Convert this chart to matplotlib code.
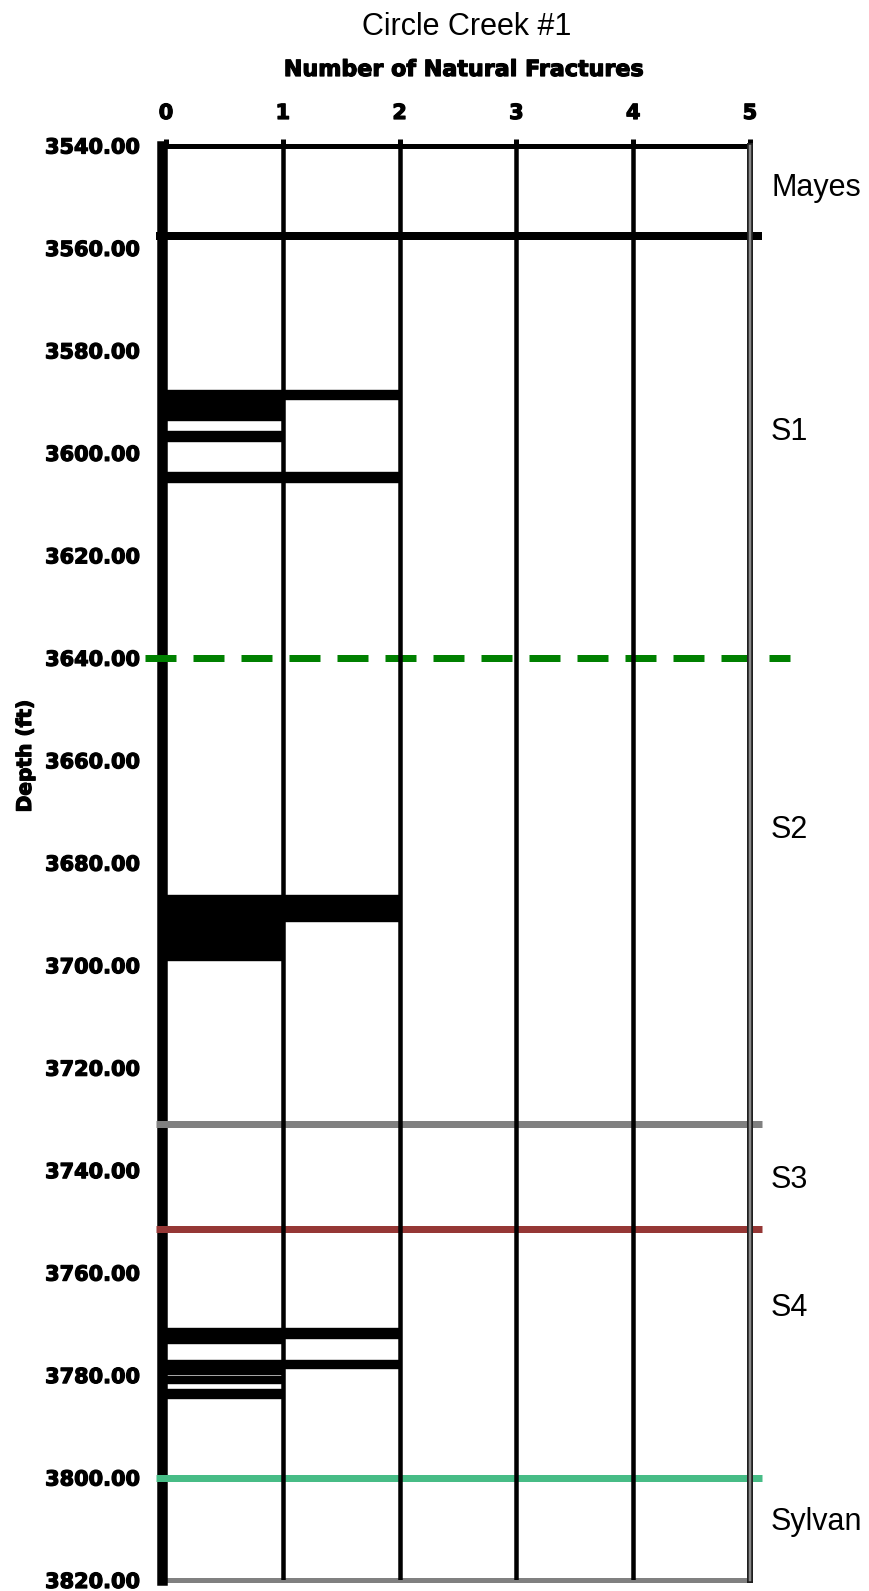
import matplotlib
matplotlib.use("Agg")
import matplotlib.pyplot as plt
import matplotlib.patheffects as pe
from matplotlib.ticker import FormatStrFormatter

# Fracture intervals: top depth, base depth (ft) and number of natural fractures
frac_top = [3587.7, 3589.5, 3595.7, 3603.7, 3686.3, 3691.4,
            3770.9, 3772.7, 3777.1, 3778.6, 3780.1, 3782.8]
frac_base = [3589.5, 3593.6, 3597.6, 3605.6, 3691.4, 3699.0,
             3772.7, 3773.7, 3778.6, 3779.7, 3781.6, 3784.5]
frac_count = [2, 1, 1, 2, 2, 1, 2, 1, 2, 1, 1, 1]

# Formation boundaries (ft)
boundary_depth = [3557.7, 3640.0, 3731.0, 3751.4, 3800.0]
boundary_color = ["black", "#008000", "#808080", "#953735", "#47BC86"]
boundary_style = ["solid", "dashed", "solid", "solid", "solid"]

# Formation names and where their labels sit (baseline depth, ft)
formation_names = ["Mayes", "S1", "S2", "S3", "S4", "Sylvan"]
formation_label_depth = [3549.8, 3597.5, 3675.2, 3743.5, 3768.4, 3810.2]

x_ticks = [0, 1, 2, 3, 4, 5]
depth_ticks = list(range(3540, 3821, 20))
depth_min, depth_max = 3540, 3820

W, H = 869, 1591
fig = plt.figure(figsize=(W / 100, H / 100), dpi=100)
px = 72 / 100  # points per pixel

heavy = [pe.withStroke(linewidth=0.9, foreground="black")]

left_px, right_px = 166, 750
top_px, bottom_px = 145.5, 1580
ax = fig.add_axes([left_px / W, 1 - bottom_px / H,
                   (right_px - left_px) / W, (bottom_px - top_px) / H])
ax.set_xlim(0, 5)
ax.set_ylim(depth_max, depth_min)

# fracture bars
centers = [(t + b) / 2 for t, b in zip(frac_top, frac_base)]
heights = [b - t for t, b in zip(frac_top, frac_base)]
ax.barh(centers, frac_count, height=heights, left=0, color="black",
        edgecolor="black", linewidth=1.0, zorder=3)

# formation boundaries
for d, c, s in zip(boundary_depth, boundary_color, boundary_style):
    if s == "dashed":
        ln, = ax.plot([-0.18, 5.34], [d, d], color=c, lw=7 * px,
                      clip_on=False, zorder=4, solid_capstyle="butt",
                      dash_capstyle="butt")
        ln.set_dashes([31 / 7, 17 / 7])
    else:
        lw = 8 * px if c == "black" else 7 * px
        ax.plot([-0.085, 5.1], [d, d], color=c, lw=lw, clip_on=False,
                zorder=4, solid_capstyle="butt")

# vertical grid lines
for xv in x_ticks[1:-1]:
    ax.axvline(xv, color="black", lw=4.5 * px, zorder=5)
ax.axvline(x_ticks[-1], color="#202020", lw=6 * px, zorder=5, clip_on=False)
ax.axvline(x_ticks[-1], color="#8a8a8a", lw=2.5 * px, zorder=6, clip_on=False)

# spines
ax.spines["right"].set_visible(False)
ax.spines["left"].set_linewidth(10.5 * px)
ax.spines["left"].set_color("black")
ax.spines["left"].set_position(("outward", 4.5 * px))
ax.spines["left"].set_zorder(3.5)
ax.spines["top"].set_linewidth(5 * px)
ax.spines["top"].set_color("black")
ax.spines["bottom"].set_linewidth(5 * px)
ax.spines["bottom"].set_color("#808080")

# ticks
ax.xaxis.tick_top()
ax.set_xticks(x_ticks)
ax.set_yticks(depth_ticks)
ax.yaxis.set_major_formatter(FormatStrFormatter("%.2f"))
ax.tick_params(axis="x", which="both", top=True, bottom=False,
               direction="out", length=7.5 * px, width=5 * px,
               pad=15 * px, labelsize=15, color="black")
ax.tick_params(axis="y", which="both", length=0, pad=21.5 * px, labelsize=15)
for lab in ax.get_xticklabels() + ax.get_yticklabels():
    lab.set_fontfamily("DejaVu Sans")
    lab.set_fontweight("bold")
    lab.set_path_effects(heavy)

# formation labels on the right
for name, d in zip(formation_names, formation_label_depth):
    ax.text(5.18, d, name, fontsize=22, family="Liberation Sans",
            ha="left", va="baseline", clip_on=False)

# titles
fig.text(466.5 / W, 1 - 35 / H, "Circle Creek #1", fontsize=22,
         family="Liberation Sans", ha="center", va="baseline")
fig.text(464 / W, 1 - 76 / H, "Number of Natural Fractures", fontsize=16,
         family="DejaVu Sans", fontweight="bold", ha="center", va="baseline",
         path_effects=heavy)
fig.text(25.5 / W, 1 - 756 / H, "Depth (ft)", fontsize=14.5,
         family="DejaVu Sans", fontweight="bold", rotation=90,
         ha="center", va="center", path_effects=heavy)

fig.savefig("out.png", dpi=100)
